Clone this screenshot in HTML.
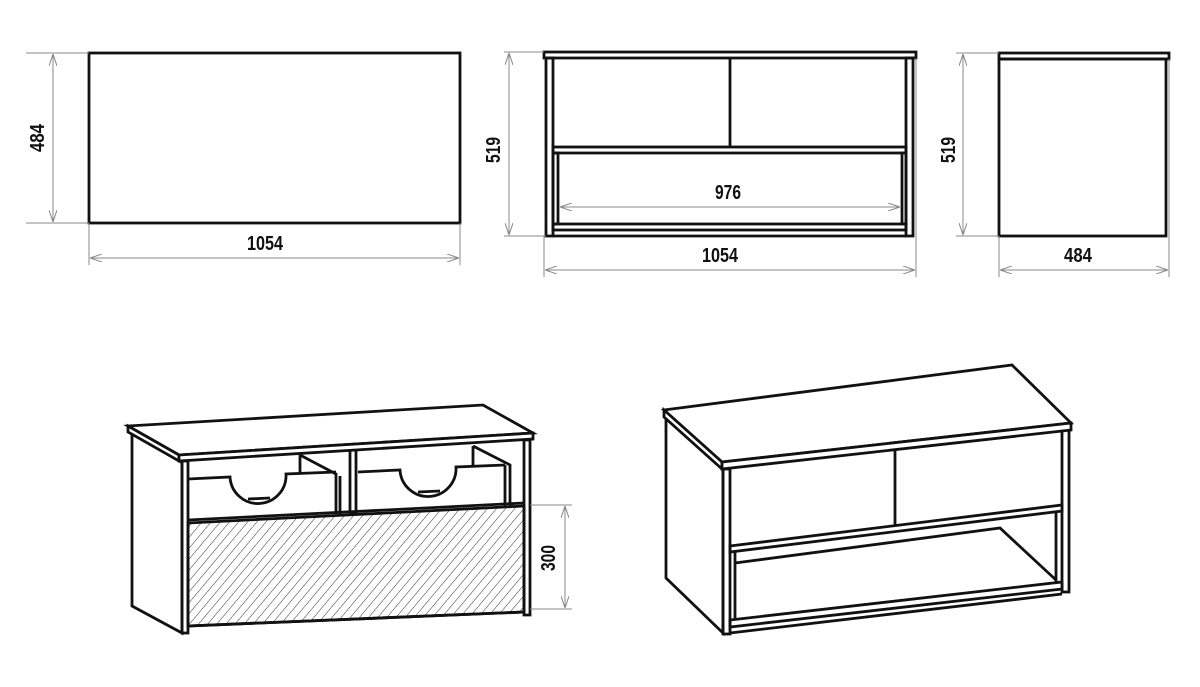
<!DOCTYPE html>
<html><head><meta charset="utf-8"><style>
html,body{margin:0;padding:0;background:#fff}
svg{display:block}
.t{font-family:"Liberation Sans Narrow","Liberation Sans",sans-serif;font-weight:bold;font-size:20px;fill:#111}
.k{stroke:#111;stroke-width:2.8;fill:none;stroke-linejoin:miter}
.kf{stroke:#111;stroke-width:2.8;fill:#fff;stroke-linejoin:miter}
.d{stroke:#888;stroke-width:1;fill:none}
</style></head><body>
<svg width="1200" height="687" viewBox="0 0 1200 687" xmlns="http://www.w3.org/2000/svg">
<defs>
<marker id="a" viewBox="0 0 12 8" refX="12" refY="4" markerWidth="12" markerHeight="8" orient="auto-start-reverse" markerUnits="userSpaceOnUse">
<path d="M0,0 L12,4 L0,8" fill="none" stroke="#888" stroke-width="1"/></marker>
<pattern id="h" patternUnits="userSpaceOnUse" width="7" height="7" patternTransform="rotate(40)">
<line x1="0" y1="0" x2="0" y2="7" stroke="#333" stroke-width="1"/></pattern>
</defs>

<!-- TOP VIEW -->
<rect x="89" y="53" width="371" height="170" class="k"/>
<line x1="26" y1="53" x2="89" y2="53" class="d"/>
<line x1="26" y1="223" x2="89" y2="223" class="d"/>
<line x1="53" y1="54" x2="53" y2="222" class="d" marker-start="url(#a)" marker-end="url(#a)"/>
<text class="t" transform="translate(44,138) rotate(-90)" text-anchor="middle" textLength="28" lengthAdjust="spacingAndGlyphs">484</text>
<line x1="89" y1="223" x2="89" y2="265" class="d"/>
<line x1="460" y1="223" x2="460" y2="265" class="d"/>
<line x1="90" y1="258" x2="459" y2="258" class="d" marker-start="url(#a)" marker-end="url(#a)"/>
<text class="t" x="265" y="250" text-anchor="middle" textLength="36" lengthAdjust="spacingAndGlyphs">1054</text>

<!-- FRONT VIEW -->
<rect x="544" y="52" width="372" height="6" class="k"/>
<rect x="546" y="58" width="7" height="178" class="k"/>
<rect x="906" y="58" width="7" height="178" class="k"/>
<line x1="730" y1="58" x2="730" y2="147" class="k"/>
<rect x="553" y="147" width="353" height="6" class="k"/>
<rect x="553" y="153" width="5" height="71" class="k"/>
<rect x="902" y="153" width="4" height="71" class="k"/>
<rect x="553" y="224" width="353" height="6" class="k"/>
<line x1="553" y1="236" x2="906" y2="236" class="k"/>
<line x1="560" y1="207" x2="900" y2="207" class="d" marker-start="url(#a)" marker-end="url(#a)"/>
<text class="t" x="728" y="199" text-anchor="middle" textLength="26" lengthAdjust="spacingAndGlyphs">976</text>
<line x1="504" y1="52" x2="544" y2="52" class="d"/>
<line x1="504" y1="236" x2="546" y2="236" class="d"/>
<line x1="509" y1="53" x2="509" y2="235" class="d" marker-start="url(#a)" marker-end="url(#a)"/>
<text class="t" transform="translate(500,150) rotate(-90)" text-anchor="middle" textLength="26" lengthAdjust="spacingAndGlyphs">519</text>
<line x1="544" y1="236" x2="544" y2="277" class="d"/>
<line x1="916" y1="58" x2="916" y2="277" class="d"/>
<line x1="545" y1="270" x2="915" y2="270" class="d" marker-start="url(#a)" marker-end="url(#a)"/>
<text class="t" x="720" y="262" text-anchor="middle" textLength="36" lengthAdjust="spacingAndGlyphs">1054</text>

<!-- SIDE VIEW -->
<rect x="999" y="53" width="170" height="6" class="k"/>
<rect x="999" y="59" width="167" height="177" class="k"/>
<line x1="956" y1="53" x2="999" y2="53" class="d"/>
<line x1="956" y1="236" x2="999" y2="236" class="d"/>
<line x1="963" y1="54" x2="963" y2="235" class="d" marker-start="url(#a)" marker-end="url(#a)"/>
<text class="t" transform="translate(955,150) rotate(-90)" text-anchor="middle" textLength="26" lengthAdjust="spacingAndGlyphs">519</text>
<line x1="999" y1="236" x2="999" y2="277" class="d"/>
<line x1="1169" y1="59" x2="1169" y2="277" class="d"/>
<line x1="1000" y1="270" x2="1168" y2="270" class="d" marker-start="url(#a)" marker-end="url(#a)"/>
<text class="t" x="1078" y="262" text-anchor="middle" textLength="28" lengthAdjust="spacingAndGlyphs">484</text>

<!-- ISO LEFT (drawers) -->
<polygon points="132,433 182,461 182,633 132,606" class="kf"/>
<polygon points="524,440 530,440 530,615 524,615" class="kf"/>
<polygon points="188,523 524,506 524,612 188,626" fill="url(#h)" stroke="#111" stroke-width="2.8"/>
<path d="M188,479 L230,477 A28,28 0 0 0 286,474 L336,472" class="k"/>
<path d="M300,455 L300,474 M300,455 L336,474 L336,514 M340,476 L340,514" class="k"/>
<path d="M248,499 L270,498" class="k" stroke-width="1.5"/>
<rect x="350" y="448" width="6" height="65" class="k"/>
<path d="M358,472 L400,470 A28,28 0 0 0 456,467 L505,465" class="k"/>
<path d="M473,446 L473,465 M473,446 L510,465 L510,508 M505,465 L505,508" class="k"/>
<path d="M418,492 L440,491" class="k" stroke-width="1.5"/>
<line x1="188" y1="520" x2="524" y2="503" class="k"/>
<rect x="182" y="461" width="6" height="172" class="k"/>
<polygon points="128,426 483,405 533,433 179,455" class="kf"/>
<polygon points="128,426 179,455 179,461 128,432" class="kf"/>
<polygon points="179,455 533,433 533,439 179,461" class="kf"/>
<line x1="188" y1="626" x2="524" y2="612" class="k"/>
<line x1="530" y1="505" x2="572" y2="505" class="d"/>
<line x1="530" y1="609" x2="572" y2="609" class="d"/>
<line x1="565" y1="506" x2="565" y2="608" class="d" marker-start="url(#a)" marker-end="url(#a)"/>
<text class="t" transform="translate(555,558) rotate(-90)" text-anchor="middle" textLength="26" lengthAdjust="spacingAndGlyphs">300</text>

<!-- ISO RIGHT (open) -->
<polygon points="666,417 723,469 723,633 666,578" class="kf"/>
<rect x="1062" y="428" width="7" height="164" class="k"/>
<line x1="895" y1="450" x2="895" y2="528" class="k"/>
<polygon points="730,546 1062,505 1062,511 730,552" class="kf"/>
<line x1="735" y1="552" x2="735" y2="620" class="k"/>
<line x1="1056" y1="512" x2="1056" y2="582" class="k"/>
<path d="M735,563 L1000,528 L1056,580" class="k"/>
<polygon points="730,620 1062,582 1062,589 730,627" class="kf"/>
<rect x="723" y="469" width="7" height="165" class="k"/>
<line x1="730" y1="633" x2="1062" y2="594" class="k"/>
<polygon points="664,410 1012,365 1071,423 722,462" class="kf"/>
<polygon points="664,410 722,462 722,469 664,417" class="kf"/>
<polygon points="722,462 1071,423 1071,430 722,469" class="kf"/>
</svg>
</body></html>
